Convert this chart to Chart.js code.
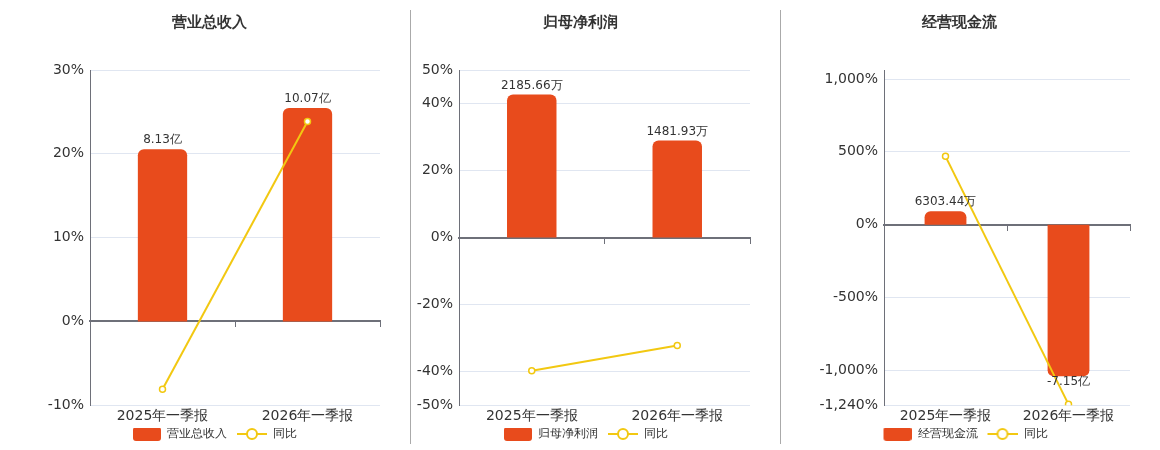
<!DOCTYPE html>
<html>
<head>
<meta charset="utf-8">
<script src="https://cdn.jsdelivr.net/npm/chart.js@4.4.1/dist/chart.umd.min.js"></script>
<style>
  html, body { margin: 0; padding: 0; background: #fff; }
  .wrap { display: flex; width: 1160px; height: 450px; }
  .panel { position: relative; height: 450px; }
  .panel.sep::before {
    content: ''; position: absolute; left: 0; top: 10px; bottom: 6px;
    width: 1px; background: #aaa;
  }
  canvas { display: block; }
</style>
</head>
<body>
<div class="wrap">
  <div class="panel" style="width:410px"><canvas id="c1" width="410" height="450"></canvas></div>
  <div class="panel sep" style="width:370px"><canvas id="c2" width="370" height="450"></canvas></div>
  <div class="panel sep" style="width:380px"><canvas id="c3" width="380" height="450"></canvas></div>
</div>
<script>
// Categories
const periods = ['2025年一季报', '2026年一季报'];

// Bar values (万元)
const revenue = [81300, 100700];
const netProfit = [2185.66, 1481.93];
const cashFlow = [6303.44, -71500];

// YoY growth (%)
const revenueYoy = [-8.1, 23.86];
const netProfitYoy = [-39.7, -32.2];
const cashFlowYoy = [469, -1234];

// Y axis ticks (%)
const revenueTicks = [30, 20, 10, 0, -10];
const netProfitTicks = [50, 40, 20, 0, -20, -40, -50];
const cashFlowTicks = [1000, 500, 0, -500, -1000, -1240];

const BAR = '#e84b1c';
const LINE = '#f2c811';
const FONT = 'DejaVu Sans, Verdana, sans-serif';

// legend icons, both 40px wide; the left part is left empty as spacing
function barIcon() {
  const c = document.createElement('canvas');
  c.width = 40; c.height = 14;
  const g = c.getContext('2d');
  g.fillStyle = BAR;
  g.beginPath();
  g.roundRect(12, 0, 28, 14, 3);
  g.fill();
  return c;
}
function lineIcon() {
  const c = document.createElement('canvas');
  c.width = 40; c.height = 14;
  const g = c.getContext('2d');
  g.strokeStyle = LINE;
  g.lineWidth = 2;
  g.beginPath(); g.moveTo(10, 7); g.lineTo(40, 7); g.stroke();
  g.fillStyle = '#fff';
  g.beginPath(); g.arc(25, 7, 5, 0, Math.PI * 2); g.fill(); g.stroke();
  return c;
}

function fmtAmount(v) {
  if (Math.abs(v) >= 10000) return (v / 10000).toFixed(2) + '亿';
  return v.toFixed(2) + '万';
}

// value labels on bars
const barLabels = {
  id: 'barLabels',
  afterDatasetsDraw(chart) {
    const ctx = chart.ctx;
    const idx = chart.data.datasets.findIndex(ds => ds.type === 'bar');
    const meta = chart.getDatasetMeta(idx);
    const data = chart.data.datasets[idx].data;
    ctx.save();
    ctx.font = '12px ' + FONT;
    ctx.fillStyle = '#333';
    ctx.textAlign = 'center';
    meta.data.forEach((bar, i) => {
      const v = data[i];
      if (v >= 0) {
        ctx.textBaseline = 'bottom';
        ctx.fillText(fmtAmount(v), bar.x, bar.y - 3);
      } else {
        ctx.textBaseline = 'top';
        ctx.fillText(fmtAmount(v), bar.x, bar.y + 0);
      }
    });
    ctx.restore();
  }
};

function makeChart(id, title, barName, bars, yoy, ticks, scaleK, padL, axisWidth) {
  const yMin = Math.min(...ticks);
  const yMax = ticks[0] === 1000 ? 1062 : Math.max(...ticks);
  return new Chart(document.getElementById(id), {
    data: {
      labels: periods,
      datasets: [
        {
          type: 'line',
          label: '同比',
          data: yoy,
          yAxisID: 'y',
          borderColor: LINE,
          borderWidth: 2,
          pointRadius: 3,
          pointBorderWidth: 1.5,
          pointBackgroundColor: '#fff',
          pointBorderColor: LINE,
          tension: 0,
          order: 0
        },
        {
          type: 'bar',
          label: barName,
          data: bars,
          yAxisID: 'yb',
          backgroundColor: BAR,
          borderRadius: 6,
          borderSkipped: 'start',
          barPercentage: 0.34,
          categoryPercentage: 1,
          order: 1
        }
      ]
    },
    options: {
      responsive: false,
      animation: false,
      layout: { padding: { left: padL, right: 30, top: 0, bottom: 0 } },
      plugins: {
        title: {
          display: true,
          text: title,
          color: '#333',
          font: { family: FONT, size: 15, weight: 'bold' },
          padding: { top: 14, bottom: 38 }
        },
        legend: {
          position: 'bottom',
          reverse: true,
          labels: {
            usePointStyle: true,
            pointStyleWidth: 40,
            padding: 0,
            color: '#333',
            font: { family: FONT, size: 12 },
            generateLabels(chart) {
              return chart.data.datasets.map((ds, i) => ({
                text: ds.label,
                datasetIndex: i,
                pointStyle: ds.type === 'bar' ? barIcon() : lineIcon(),
                fillStyle: 'transparent',
                strokeStyle: 'transparent',
                lineWidth: 0,
                fontColor: '#333'
              }));
            }
          }
        },
        tooltip: { enabled: false }
      },
      scales: {
        x: {
          type: 'category',
          grid: { display: false, drawTicks: false },
          border: { display: false },
          ticks: { color: '#333', font: { family: FONT, size: 14 }, padding: 3 }
        },
        x0: {
          type: 'category',
          position: { y: 0 },
          offset: true,
          grid: { offset: true, drawOnChartArea: false, drawTicks: true, tickLength: 5, color: '#6e7079', lineWidth: 1 },
          border: { display: true, color: '#6e7079', width: 2 },
          ticks: { display: false }
        },
        y: {
          min: yMin,
          max: yMax,
          afterBuildTicks(scale) { scale.ticks = ticks.map(v => ({ value: v })); },
          afterFit(scale) { scale.width = axisWidth; },
          grid: {
            drawTicks: false,
            color: ctx => ctx.tick && ctx.tick.value === 0 ? 'rgba(0,0,0,0)' : '#e0e6f1'
          },
          border: { display: true, color: '#6e7079', width: 1 },
          ticks: {
            color: '#333',
            padding: 6,
            font: { family: FONT, size: 14 },
            callback: v => v.toLocaleString('en-US') + '%'
          }
        },
        yb: {
          display: false,
          min: yMin * scaleK,
          max: yMax * scaleK
        }
      }
    },
    plugins: [barLabels]
  });
}

makeChart('c1', '营业总收入', '营业总收入', revenue, revenueYoy, revenueTicks, 3956, 38, 52);
makeChart('c2', '归母净利润', '归母净利润', netProfit, netProfitYoy, netProfitTicks, 51.2, 0, 49);
makeChart('c3', '经营现金流', '经营现金流', cashFlow, cashFlowYoy, cashFlowTicks, 68.7, 9, 95);
</script>
</body>
</html>
